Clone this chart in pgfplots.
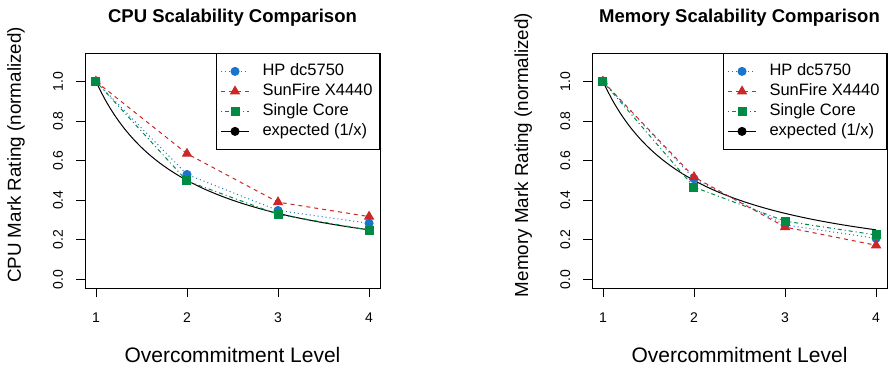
\documentclass[border=0pt]{standalone}
\usepackage{fontspec}
\setmainfont{Liberation Sans}
\usepackage{pgfplots}
\pgfplotsset{compat=1.18}
\definecolor{cblue}{RGB}{24,116,205}
\definecolor{cred}{RGB}{205,38,38}
\definecolor{cgreen}{RGB}{0,139,69}
\pgfplotsset{
  rstyle/.style={
    scale only axis, width=295pt, height=235pt,
    xmin=0.88, xmax=4.12, ymin=-0.044, ymax=1.144,
    xtick={1,2,3,4}, ytick={0,0.2,0.4,0.6,0.8,1.0},
    /pgf/number format/assume math mode=true,
    yticklabel style={/pgf/number format/fixed, /pgf/number format/fixed zerofill, /pgf/number format/precision=1, rotate=90, anchor=base, yshift=13pt, font=\fontsize{14}{14}\selectfont},
    xticklabel style={yshift=-26pt, anchor=base, font=\fontsize{14}{14}\selectfont},
    tick align=outside, tick pos=left, major tick length=9pt,
    axis line style={black, line width=0.8pt},
    every tick/.style={black, line width=0.8pt},
    title style={at={(axis description cs:0.5,1)}, anchor=base, yshift=24pt, font=\bfseries\fontsize{18.5}{20}\selectfont},
    xlabel style={at={(axis description cs:0.5,0)}, anchor=base, yshift=-75pt, font=\fontsize{21}{21}\selectfont},
    ylabel style={at={(axis description cs:0,0.5)}, anchor=base, xshift=15.5pt, yshift=64pt, font=\fontsize{18.8}{18.8}\selectfont},
    legend style={at={(1,1)}, anchor=north east, draw=black, line width=0.8pt, font=\fontsize{16.5}{16.5}\selectfont, row sep=0pt, column sep=10pt, inner xsep=4pt, inner ysep=8pt, nodes={inner sep=3pt, text height=11pt, text depth=3pt}},
    legend cell align=left,
    legend image code/.code={\draw[mark repeat=2, mark phase=2] plot coordinates {(0pt,0pt) (14pt,0pt) (28pt,0pt)};},
    hp/.style={cblue, line width=1pt, dash pattern=on 1pt off 3pt, mark=*, mark size=4pt, mark options={solid, fill=cblue, draw=cblue}},
    sun/.style={cred, line width=1pt, dash pattern=on 4pt off 4pt, mark=triangle*, mark size=5pt, mark options={solid, fill=cred, draw=cred}},
    sgl/.style={cgreen, line width=1pt, dash pattern=on 1pt off 3pt on 4pt off 3pt, mark=square*, mark size=4pt, mark options={solid, fill=cgreen, draw=cgreen}},
    expc/.style={black, line width=1pt, solid},
  }
}
\pgfplotstableread{
x y
1.0 1.0000
1.1 0.9091
1.2 0.8333
1.3 0.7692
1.4 0.7143
1.5 0.6667
1.6 0.6250
1.7 0.5882
1.8 0.5556
1.9 0.5263
2.0 0.5000
2.1 0.4762
2.2 0.4545
2.3 0.4348
2.4 0.4167
2.5 0.4000
2.6 0.3846
2.7 0.3704
2.8 0.3571
2.9 0.3448
3.0 0.3333
3.1 0.3226
3.2 0.3125
3.3 0.3030
3.4 0.2941
3.5 0.2857
3.6 0.2778
3.7 0.2703
3.8 0.2632
3.9 0.2564
4.0 0.2500
}\expected
\begin{document}
\begin{tikzpicture}[x=1pt,y=1pt]
\useasboundingbox (0,0) rectangle (889,371);
\begin{axis}[rstyle, at={(85pt,83pt)}, anchor=south west,
  title={CPU Scalability Comparison},
  xlabel={Overcommitment Level},
  ylabel={CPU Mark Rating (normalized)}]
\addplot[expc, forget plot, smooth] table {\expected};
\addplot[hp] coordinates {(1,1) (2,0.530) (3,0.348) (4,0.283)};
\addlegendentry{HP dc5750}
\addplot[sun] coordinates {(1,1) (2,0.635) (3,0.390) (4,0.317)};
\addlegendentry{SunFire X4440}
\addplot[sgl] coordinates {(1,1) (2,0.497) (3,0.328) (4,0.249)};
\addlegendentry{Single Core}
\addlegendimage{black, line width=1pt, solid, mark=*, mark size=4pt}
\addlegendentry{expected (1/x)}
\end{axis}
\begin{axis}[rstyle, at={(592pt,83pt)}, anchor=south west,
  title={Memory Scalability Comparison},
  xlabel={Overcommitment Level},
  ylabel={Memory Mark Rating (normalized)}]
\addplot[expc, forget plot, smooth] table {\expected};
\addplot[hp] coordinates {(1,1) (2,0.508) (3,0.275) (4,0.207)};
\addlegendentry{HP dc5750}
\addplot[sun] coordinates {(1,1) (2,0.517) (3,0.264) (4,0.172)};
\addlegendentry{SunFire X4440}
\addplot[sgl] coordinates {(1,1) (2,0.466) (3,0.294) (4,0.224)};
\addlegendentry{Single Core}
\addlegendimage{black, line width=1pt, solid, mark=*, mark size=4pt}
\addlegendentry{expected (1/x)}
\end{axis}
\end{tikzpicture}
\end{document}
